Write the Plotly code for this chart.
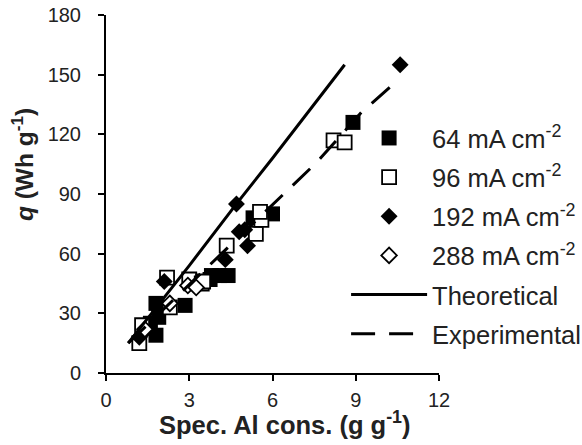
import plotly.graph_objects as go

# ---- data ----
s64_x = [1.8, 1.6, 1.9, 1.8, 2.85, 3.75, 3.8, 4.1, 4.4, 5.3, 6.0, 8.9]
s64_y = [19, 25, 28, 35, 34, 47, 49, 49, 49, 78, 80, 126]

s96_x = [1.2, 1.3, 2.2, 2.3, 3.0, 3.45, 3.5, 4.35, 5.4, 5.6, 5.55, 8.2, 8.6]
s96_y = [15, 24, 48, 33, 47, 45, 46, 64, 70, 77, 81, 117, 116]

s192_x = [1.2, 1.4, 2.1, 4.3, 4.7, 4.8, 5.0, 5.1, 10.6]
s192_y = [18, 21, 46, 57, 85, 71, 72, 64, 155]

s288_x = [1.4, 2.3, 2.95, 3.25]
s288_y = [22, 35, 44, 43]

theo_x = [0.8, 3.0, 4.7, 6.0, 8.6]
theo_y = [15, 54, 85, 108, 155]

exp_x = [0.8, 6.3, 7.6, 9.2, 10.5]
exp_y = [15, 89, 106, 131, 147]

x_ticks = [0, 3, 6, 9, 12]
y_ticks = [0, 30, 60, 90, 120, 150, 180]

names = ["64 mA cm<sup>-2</sup>", "96 mA cm<sup>-2</sup>",
         "192 mA cm<sup>-2</sup>", "288 mA cm<sup>-2</sup>",
         "Theoretical", "Experimental"]

FONT = "Liberation Sans, Arial, sans-serif"

fig = go.Figure()
fig.add_trace(go.Scatter(x=s64_x, y=s64_y, mode="markers", name=names[0], legendgroup="g0",
                         marker=dict(symbol="square", size=15, color="black",
                                     line=dict(color="black", width=0))))
fig.add_trace(go.Scatter(x=s96_x, y=s96_y, mode="markers", name=names[1], legendgroup="g1",
                         marker=dict(symbol="square", size=14, color="white",
                                     line=dict(color="black", width=1.8))))
fig.add_trace(go.Scatter(x=s192_x, y=s192_y, mode="markers", name=names[2], legendgroup="g2",
                         marker=dict(symbol="diamond", size=13, color="black",
                                     line=dict(color="black", width=0))))
fig.add_trace(go.Scatter(x=s288_x, y=s288_y, mode="markers", name=names[3], legendgroup="g3",
                         marker=dict(symbol="diamond", size=12, color="white",
                                     line=dict(color="black", width=1.8))))
fig.add_trace(go.Scatter(x=theo_x, y=theo_y, mode="lines", name=names[4], legendgroup="g4",
                         line=dict(color="black", width=3)))
fig.add_trace(go.Scatter(x=exp_x, y=exp_y, mode="lines", name=names[5], legendgroup="g5",
                         line=dict(color="black", width=3, dash="24px,14px")))

axis_common = dict(showgrid=False, zeroline=False, showline=True,
                   linecolor="black", linewidth=2, ticks="outside",
                   ticklen=6, tickwidth=2, tickcolor="black",
                   tickfont=dict(family=FONT, size=20, color="#222"))

fig.update_xaxes(range=[0, 12], tickvals=x_ticks, ticklabelstandoff=2,
                 automargin=False, **axis_common)
fig.update_yaxes(range=[0, 180], tickvals=y_ticks, ticklabelstandoff=13,
                 automargin=False, **axis_common)

fig.update_layout(
    width=582, height=445,
    margin=dict(l=106, r=143, t=15, b=72, autoexpand=False),
    plot_bgcolor="white", paper_bgcolor="white",
    font=dict(family=FONT, color="#222"),
    showlegend=True,
    legend=dict(x=0.721, y=0.721, xanchor="left", yanchor="top",
                font=dict(family=FONT, size=25.5, color="#222"),
                bgcolor="rgba(0,0,0,0)", itemwidth=76,
                tracegroupgap=3),
    annotations=[
        dict(text="<b><i>q</i> (Wh g<sup>-1</sup>)</b>", xref="paper", yref="paper",
             x=-0.252, y=0.581, xanchor="center", yanchor="middle", textangle=-90,
             showarrow=False, font=dict(family=FONT, size=24.5, color="#222")),
        dict(text="<b>Spec. Al cons. (g g<sup>-1</sup>)</b>", xref="paper", yref="paper",
             x=0.153, y=-0.14, xanchor="left", yanchor="middle",
             showarrow=False, font=dict(family=FONT, size=25.5, color="#222")),
    ],
)

fig.write_html("out.html")
